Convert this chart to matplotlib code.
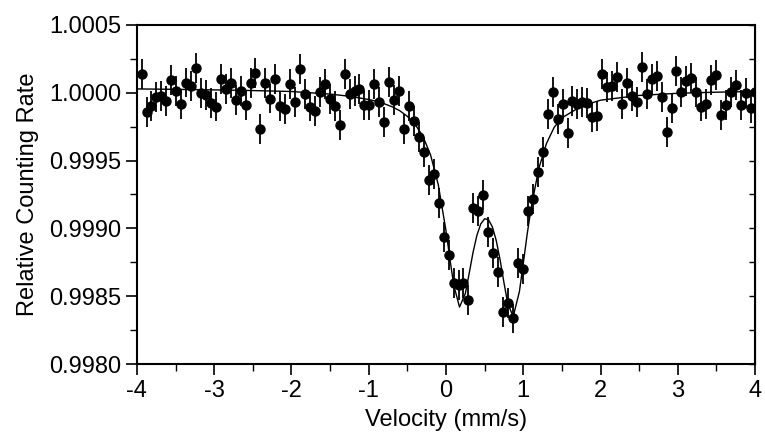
import matplotlib
matplotlib.use('Agg')
import matplotlib.pyplot as plt
from matplotlib.ticker import MultipleLocator, FormatStrFormatter

plt.rcParams['font.family'] = ['Liberation Sans', 'DejaVu Sans']
plt.rcParams['axes.unicode_minus'] = False

# Measured spectrum: velocity (mm/s) and relative counting rate
velocity = [
    -3.940, -3.876, -3.812, -3.748, -3.684, -3.620, -3.555, -3.491, -3.427, -3.363,
    -3.299, -3.235, -3.171, -3.107, -3.043, -2.979, -2.914, -2.850, -2.786, -2.722,
    -2.658, -2.594, -2.530, -2.466, -2.402, -2.338, -2.273, -2.209, -2.145, -2.081,
    -2.017, -1.953, -1.889, -1.825, -1.761, -1.697, -1.632, -1.568, -1.504, -1.440,
    -1.376, -1.312, -1.248, -1.184, -1.120, -1.056, -0.991, -0.927, -0.863, -0.799,
    -0.735, -0.671, -0.607, -0.543, -0.479, -0.415, -0.350, -0.286, -0.222, -0.158,
    -0.094, -0.030, 0.034, 0.098, 0.162, 0.226, 0.291, 0.355, 0.419, 0.483,
    0.547, 0.611, 0.675, 0.739, 0.803, 0.867, 0.932, 0.996, 1.060, 1.124,
    1.188, 1.252, 1.316, 1.380, 1.444, 1.508, 1.573, 1.637, 1.701, 1.765,
    1.829, 1.893, 1.957, 2.021, 2.085, 2.149, 2.214, 2.278, 2.342, 2.406,
    2.470, 2.534, 2.598, 2.662, 2.726, 2.790, 2.855, 2.919, 2.983, 3.047,
    3.111, 3.175, 3.239, 3.303, 3.367, 3.431, 3.496, 3.560, 3.624, 3.688,
    3.752, 3.816, 3.880, 3.944, 4.000,
]
rate = [
    1.000136, 0.999856, 0.999903, 0.999967, 0.999976, 0.999942, 1.000092, 1.000015, 0.999917, 1.000075,
    1.000052, 1.000185, 1.000001, 0.999984, 0.999927, 0.999898, 1.000102, 1.000030, 1.000070, 0.999945,
    1.000013, 0.999908, 1.000072, 1.000148, 0.999731, 1.000070, 0.999957, 1.000102, 0.999903, 0.999878,
    1.000063, 0.999930, 1.000176, 0.999989, 0.999898, 0.999868, 1.000006, 1.000067, 0.999952, 0.999905,
    0.999763, 1.000136, 0.999989, 1.000015, 1.000028, 0.999908, 0.999908, 1.000067, 0.999930, 0.999785,
    1.000082, 0.999945, 1.000013, 0.999733, 0.999903, 0.999792, 0.999672, 0.999561, 0.999357, 0.999399,
    0.999190, 0.998934, 0.998804, 0.998600, 0.998580, 0.998600, 0.998472, 0.999148, 0.999128, 0.999246,
    0.998976, 0.998816, 0.998676, 0.998381, 0.998447, 0.998336, 0.998743, 0.998700, 0.999128, 0.999217,
    0.999416, 0.999566, 0.999844, 1.000004, 0.999807, 0.999917, 0.999706, 0.999942, 0.999917, 0.999932,
    0.999923, 0.999819, 0.999831, 1.000141, 1.000043, 1.000050, 1.000117, 0.999917, 1.000070, 0.999979,
    0.999934, 1.000192, 0.999991, 1.000102, 1.000126, 0.999971, 0.999713, 0.999886, 1.000163, 1.000004,
    1.000085, 1.000107, 1.000004, 0.999898, 0.999915, 1.000094, 1.000131, 0.999836, 0.999908, 1.000008,
    1.000058, 0.999908, 0.999996, 0.999886, 1.000004,
]
rate_err = 0.00011

# Fitted doublet curve
fit_v = [-4.0, -3.5, -3.0, -2.5, -2.0, -1.5, -1.25, -1.0, -0.9, -0.8, -0.7, -0.6, -0.5,
         -0.4, -0.3, -0.2, -0.1, 0.0, 0.05, 0.1, 0.175, 0.25, 0.3, 0.35, 0.4, 0.45,
         0.5, 0.55, 0.6, 0.65, 0.7, 0.75, 0.8, 0.87, 0.95, 1.0, 1.05, 1.1, 1.2, 1.3,
         1.4, 1.5, 1.75, 2.0, 2.5, 3.0, 3.5, 4.0]
fit_rate = [1.000028, 1.000025, 1.000021, 1.000016, 1.000009, 0.999990, 0.999974,
            0.999950, 0.999937, 0.999919, 0.999897, 0.999868, 0.999826, 0.999767,
            0.999680, 0.999542, 0.999322, 0.998983, 0.998777, 0.998583, 0.998420,
            0.998519, 0.998668, 0.998823, 0.998949, 0.999033, 0.999071, 0.999064,
            0.999011, 0.998911, 0.998769, 0.998600, 0.998444, 0.998350, 0.998534,
            0.998740, 0.998955, 0.999145, 0.999440, 0.999625, 0.999745, 0.999815,
            0.999900, 0.999945, 0.999980, 0.999996, 1.000004, 1.000009]

fig = plt.figure(figsize=(7.65, 4.37), dpi=100)
ax = fig.add_axes([0.179, 0.167, 0.808, 0.776])

ax.errorbar(velocity, rate, yerr=rate_err, fmt='o', color='black', ms=6.5,
            elinewidth=1.3, capsize=0, zorder=3)
ax.plot(fit_v, fit_rate, color='black', lw=1.0, zorder=4)

ax.set_xlim(-4, 4)
ax.set_ylim(0.9980, 1.0005)
ax.xaxis.set_major_locator(MultipleLocator(1))
ax.xaxis.set_minor_locator(MultipleLocator(0.5))
ax.yaxis.set_major_locator(MultipleLocator(0.0005))
ax.yaxis.set_minor_locator(MultipleLocator(0.00025))
ax.yaxis.set_major_formatter(FormatStrFormatter('%.4f'))
ax.tick_params(which='major', direction='out', length=8, width=1.2, labelsize=17)
ax.tick_params(which='minor', direction='out', length=5, width=1.0)

for s in ax.spines.values():
    s.set_linewidth(1.5)

right = ax.secondary_yaxis('right')
right.yaxis.set_major_locator(MultipleLocator(0.00025))
right.tick_params(direction='in', length=4, width=1.0, labelright=False)

ax.set_xlabel('Velocity (mm/s)', fontsize=17, labelpad=5)
ax.set_ylabel('Relative Counting Rate', fontsize=17, labelpad=7)

fig.savefig('out.png', dpi=100)
